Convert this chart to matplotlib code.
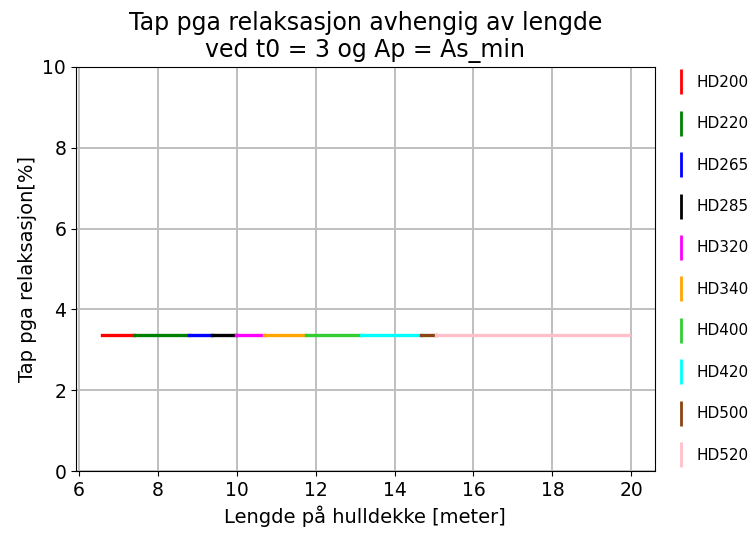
import matplotlib
matplotlib.use("Agg")
import matplotlib.pyplot as plt
from matplotlib.lines import Line2D

# hulldekke-typer og lengdeintervall [meter]
navn = ['HD200', 'HD220', 'HD265', 'HD285', 'HD320',
        'HD340', 'HD400', 'HD420', 'HD500', 'HD520']
farger = ['red', 'green', 'blue', 'black', 'magenta',
          'orange', 'limegreen', 'cyan', 'saddlebrown', 'pink']
l_start = [6.59, 7.39, 8.79, 9.38, 9.99, 10.69, 11.76, 13.16, 14.67, 15.06]
l_slutt = [7.39, 8.79, 9.38, 9.99, 10.69, 11.76, 13.16, 14.67, 15.06, 19.93]
tap = [3.38, 3.38, 3.38, 3.38, 3.38, 3.38, 3.38, 3.38, 3.38, 3.38]

fig = plt.figure(figsize=(7.51, 5.36), dpi=100)
ax = fig.add_axes([0.101, 0.121, 0.771, 0.754])

for i in range(len(navn)):
    ax.plot([l_start[i], l_slutt[i]], [tap[i], tap[i]], color=farger[i], linewidth=2.4)

ax.set_ylim(0, 10)
ax.grid(True, color='#bfbfbf', linewidth=1.4)
ax.tick_params(labelsize=13.5)
ax.set_xlabel('Lengde på hulldekke [meter]', fontsize=14)
ax.set_ylabel('Tap pga relaksasjon[%]', fontsize=14)
ax.set_title('Tap pga relaksasjon avhengig av lengde\nved t0 = 3 og Ap = As_min',
             fontsize=17, linespacing=1.15, pad=7)

handles = [Line2D([0], [0], color=c, marker='|', linestyle='None',
                  markersize=18, markeredgewidth=2) for c in farger]
ax.legend(handles, navn, loc='upper left', bbox_to_anchor=(1.005, 1.015),
          frameon=False, fontsize=11, labelspacing=1.73, handletextpad=0.45,
          handlelength=1.2)

fig.savefig('out.png', dpi=100)
